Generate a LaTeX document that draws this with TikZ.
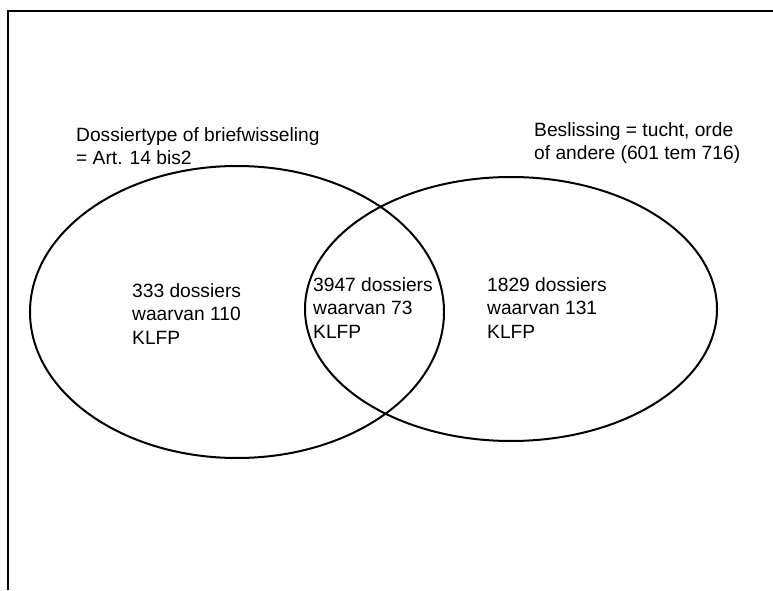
\documentclass[tikz,border=0pt]{standalone}
\usepackage{fontspec}
\setmainfont{Liberation Sans}
\usetikzlibrary{shapes.geometric}
\begin{document}
\begin{tikzpicture}[x=1pt,y=1pt,
  lbl/.style={anchor=base west,align=left,inner sep=0pt,font=\fontsize{19.2}{23.5}\selectfont},
  set/.style={draw,ellipse,line width=2pt,inner sep=0pt}]
\useasboundingbox (0,0) rectangle (773,590);
\coordinate (fb) at (8,0);
\coordinate (fc) at (8,579);
\coordinate (fr) at (773,579);
\draw[line width=2pt] (fb) -- (fc) -- (fr);
\node[set,minimum width=414pt,minimum height=292pt] (A) at (237,278) {};
\node[set,minimum width=412pt,minimum height=264pt] (B) at (511,281) {};
\node[lbl] (ta) at (76,425) {Dossiertype of briefwisseling\\= Art. 14 bis2};
\node[lbl] (tb) at (534,430) {Beslissing = tucht, orde\\of andere (601 tem 716)};
\node[lbl] (la) at (132,246) {333 dossiers\\waarvan 110\\KLFP};
\node[lbl] (lab) at (313,252) {3947 dossiers\\waarvan 73\\KLFP};
\node[lbl] (lb) at (487,252) {1829 dossiers\\waarvan 131\\KLFP};
\end{tikzpicture}
\end{document}
